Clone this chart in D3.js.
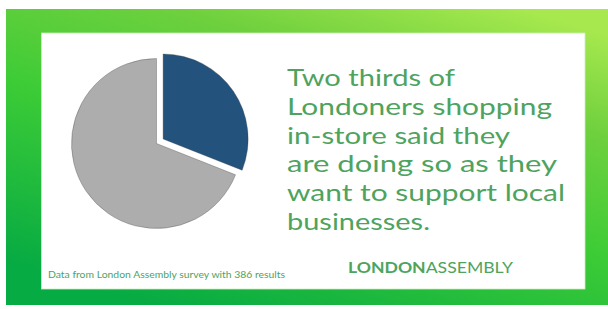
<!DOCTYPE html>
<html>
<head>
<meta charset="utf-8">
<script src="https://cdn.jsdelivr.net/npm/d3@7"></script>
<style>
  html, body { margin: 0; padding: 0; background: #fff; }
  svg { display: block; }
</style>
</head>
<body>
<div id="chart"></div>
<script>
// survey answers (share of in-store shoppers)
var labels = ["Want to support local businesses", "Other reasons"];
var values = [31, 69];
var colours = ["#23527c", "#adadad"];

var headline = [
	"Two thirds of",
	"Londoners shopping",
	"in-store said they",
	"are doing so as they",
	"want to support local",
	"businesses."
];
var headlineWidths = [168, 265, 223, 270, 278, 143];
var source = "Data from London Assembly survey with 386 results";

function init() {
	var w = 608;
	var h = 309;

	var svg = d3.select("#chart")
		.append("svg")
		.attr("width", w)
		.attr("height", h);

	var defs = svg.append("defs");
	var grad = defs.append("linearGradient")
		.attr("id", "bg")
		.attr("x1", "0.25").attr("y1", "1")
		.attr("x2", "0.85").attr("y2", "0");
	grad.append("stop").attr("offset", "0").attr("stop-color", "#07ab43");
	grad.append("stop").attr("offset", "0.45").attr("stop-color", "#3dcc36");
	grad.append("stop").attr("offset", "0.75").attr("stop-color", "#6fd03e");
	grad.append("stop").attr("offset", "1").attr("stop-color", "#a6e84e");

	// green frame and white card
	svg.append("rect")
		.attr("x", 6).attr("y", 9)
		.attr("width", 602).attr("height", 296)
		.attr("fill", "url(#bg)");
	svg.append("rect")
		.attr("x", 41.5).attr("y", 33)
		.attr("width", 543.5).attr("height", 256)
		.attr("fill", "#fff")
		.attr("stroke", "#c9efb8")
		.attr("stroke-width", 0.8);

	// pie
	var cx = 156.5, cy = 143.5, r = 85, explode = 8;
	var pie = d3.pie().sort(null).value(function(d) { return d; });
	var arc = d3.arc().innerRadius(0).outerRadius(r);
	var slices = pie(values);

	svg.append("g")
		.attr("transform", "translate(" + cx + "," + cy + ")")
		.selectAll("path")
		.data(slices)
		.enter()
		.append("path")
		.attr("d", arc)
		.attr("transform", function(d, i) {
			if (i !== 0) return null;
			var a = (d.startAngle + d.endAngle) / 2;
			return "translate(" + (Math.sin(a) * explode) + "," + (-Math.cos(a) * explode) + ")";
		})
		.attr("fill", function(d, i) { return colours[i]; })
		.attr("stroke", "#3a3a3a")
		.attr("stroke-opacity", 0.45)
		.attr("stroke-width", 0.7);

	// headline
	var green = "#4ea35e";
	svg.append("g")
		.selectAll("text")
		.data(headline)
		.enter()
		.append("text")
		.attr("x", 287)
		.attr("y", function(d, i) { return 86 + i * 28.8; })
		.attr("textLength", function(d, i) { return headlineWidths[i]; })
		.attr("lengthAdjust", "spacingAndGlyphs")
		.attr("font-family", "Lato, 'Noto Sans', sans-serif")
		.attr("font-size", 24)
		.attr("fill", green)
		.text(function(d) { return d; });

	// source note
	svg.append("text")
		.attr("x", 48)
		.attr("y", 278)
		.attr("textLength", 237)
		.attr("lengthAdjust", "spacingAndGlyphs")
		.attr("font-family", "Lato, 'Noto Sans', sans-serif")
		.attr("font-size", 10)
		.attr("fill", green)
		.text(source);

	// logo
	var logo = svg.append("text")
		.attr("x", 348)
		.attr("y", 273)
		.attr("textLength", 165)
		.attr("lengthAdjust", "spacingAndGlyphs")
		.attr("font-family", "Lato, 'Noto Sans', sans-serif")
		.attr("font-size", 16)
		.attr("fill", green);
	logo.append("tspan").attr("font-weight", "bold").text("LONDON");
	logo.append("tspan").text("ASSEMBLY");
}

window.onload = init;
</script>
</body>
</html>
